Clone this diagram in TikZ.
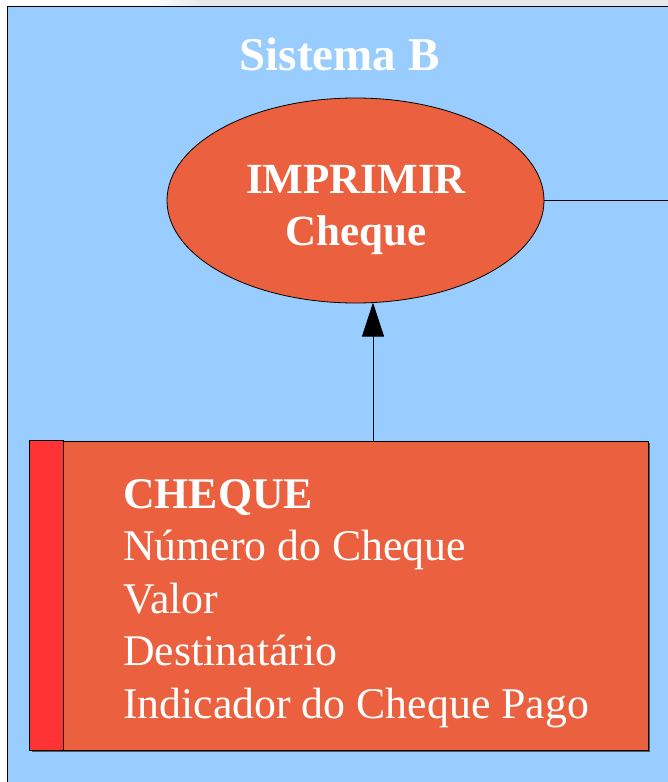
\documentclass[tikz,border=0pt]{standalone}
\usepackage{fontspec}
\setmainfont{Liberation Serif}
\usetikzlibrary{shapes.geometric,arrows.meta}
\definecolor{skyb}{HTML}{99CCFF}
\definecolor{orng}{HTML}{EB613F}
\definecolor{redbar}{HTML}{FF3333}
\definecolor{topgray}{HTML}{E6EAED}
\tikzset{
  procell/.style={ellipse,draw=black,line width=0.8bp,fill=orng,minimum width=377bp,minimum height=205bp,inner sep=0pt},
  entitybox/.style={rectangle,draw=black,line width=0.8bp,fill=orng,minimum width=618bp,minimum height=309bp,inner sep=0pt},
  whitebold/.style={text=white,font=\bfseries\fontsize{43bp}{52bp}\selectfont,align=center,inner sep=0pt},
  whiteplain/.style={text=white,font=\fontsize{43.8bp}{52.5bp}\selectfont,align=left,inner sep=0pt},
  conn/.style={draw=black,line width=0.8bp},
}
\begin{document}
\begin{tikzpicture}[x=1bp,y=-1bp]
\useasboundingbox (0,0) rectangle (668,782);
\fill[white] (0,0) rectangle (668,782);
\shade[left color=white,right color=topgray] (150,0) rectangle (200,7);
\fill[topgray] (200,0) rectangle (668,7);
% system boundary
\draw[fill=skyb,draw=black,line width=1.3bp] (7.5,6.5) rectangle (690,800);
\node[whitebold,font=\bfseries\fontsize{47bp}{52bp}\selectfont,anchor=base] (systitle) at (339.5,70.5) {Sistema B};
% process
\node[procell] (proc) at (355.5,200.5) {};
\node[whitebold,anchor=base] (proctext) at (356,245) {IMPRIMIR\\Cheque};
% entity
\fill[black!65] (31.5,442.5) rectangle (649.5,751.5);
\node[entitybox] (entity) at (339,595.5) {};
\draw[fill=redbar,draw=black,line width=0.8bp] (entity.north west) rectangle ([xshift=34bp]entity.south west);
\node[whiteplain,anchor=north west] (attrs) at (123,479) {\textbf{CHEQUE}\\Número do Cheque\\Valor\\Destinatário\\Indicador do Cheque Pago};
% connectors
\coordinate (atip) at (373,302.6);
\coordinate (offright) at (672,200.5);
\draw[conn,-{Triangle[length=34bp,width=22bp]}] (entity.north -| atip) -- (atip);
\draw[conn] (proc.east) -- (offright);
\end{tikzpicture}
\end{document}
